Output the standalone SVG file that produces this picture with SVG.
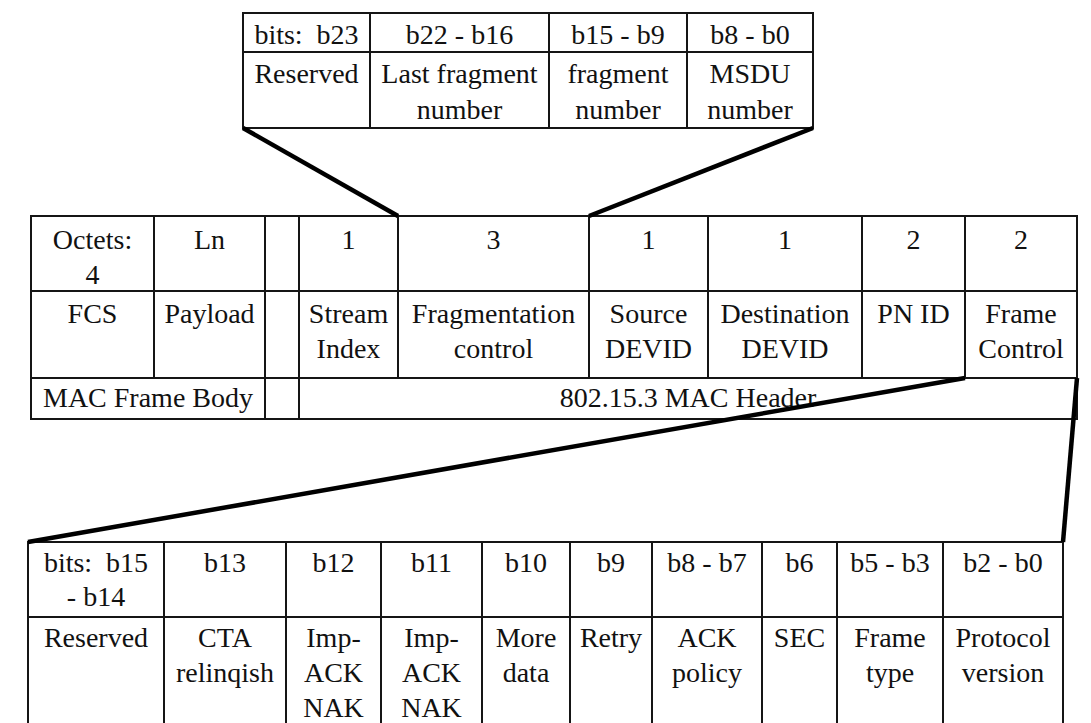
<svg xmlns="http://www.w3.org/2000/svg" width="1091" height="723" viewBox="0 0 1091 723">
  <style>
    .cell { fill: #ffffff; stroke: #151515; stroke-width: 2; }
    .t { font-family: "Liberation Serif", "Times New Roman", serif; font-size: 28px; fill: #111111; text-anchor: middle; white-space: pre; }
    .link { stroke: #000000; stroke-width: 4.5; stroke-linecap: butt; fill: none; }
  </style>
  <rect width="1091" height="723" fill="#ffffff"/>

  <!-- Fragmentation control field (24 bits) -->
  <g id="fragmentation-control">
    <rect class="cell" x="243" y="13" width="127" height="39"/>
    <rect class="cell" x="370" y="13" width="179" height="39"/>
    <rect class="cell" x="549" y="13" width="138" height="39"/>
    <rect class="cell" x="687" y="13" width="126" height="39"/>
    <rect class="cell" x="243" y="52" width="127" height="76"/>
    <rect class="cell" x="370" y="52" width="179" height="76"/>
    <rect class="cell" x="549" y="52" width="138" height="76"/>
    <rect class="cell" x="687" y="52" width="126" height="76"/>
    <text class="t" x="306.5" y="44">bits:  b23</text>
    <text class="t" x="459.5" y="44">b22 - b16</text>
    <text class="t" x="618" y="44">b15 - b9</text>
    <text class="t" x="750" y="44">b8 - b0</text>
    <text class="t" x="306.5" y="83">Reserved</text>
    <text class="t" x="459.5" y="83">Last fragment</text>
    <text class="t" x="459.5" y="119">number</text>
    <text class="t" x="618" y="83">fragment</text>
    <text class="t" x="618" y="119">number</text>
    <text class="t" x="750" y="83">MSDU</text>
    <text class="t" x="750" y="119">number</text>
  </g>

  <!-- MAC frame: header and body -->
  <g id="mac-frame">
    <rect class="cell" x="31" y="216" width="123" height="75"/>
    <rect class="cell" x="154" y="216" width="111" height="75"/>
    <rect class="cell" x="265" y="216" width="34" height="75"/>
    <rect class="cell" x="299" y="216" width="99" height="75"/>
    <rect class="cell" x="398" y="216" width="191" height="75"/>
    <rect class="cell" x="589" y="216" width="119" height="75"/>
    <rect class="cell" x="708" y="216" width="154" height="75"/>
    <rect class="cell" x="862" y="216" width="103" height="75"/>
    <rect class="cell" x="965" y="216" width="112" height="75"/>

    <rect class="cell" x="31" y="291" width="123" height="87"/>
    <rect class="cell" x="154" y="291" width="111" height="87"/>
    <rect class="cell" x="265" y="291" width="34" height="87"/>
    <rect class="cell" x="299" y="291" width="99" height="87"/>
    <rect class="cell" x="398" y="291" width="191" height="87"/>
    <rect class="cell" x="589" y="291" width="119" height="87"/>
    <rect class="cell" x="708" y="291" width="154" height="87"/>
    <rect class="cell" x="862" y="291" width="103" height="87"/>
    <rect class="cell" x="965" y="291" width="112" height="87"/>

    <rect class="cell" x="31" y="378" width="234" height="41"/>
    <rect class="cell" x="265" y="378" width="34" height="41"/>
    <rect class="cell" x="299" y="378" width="778" height="41"/>

    <text class="t" x="92.5" y="249">Octets:</text>
    <text class="t" x="92.5" y="284">4</text>
    <text class="t" x="209.5" y="249">Ln</text>
    <text class="t" x="348.5" y="249">1</text>
    <text class="t" x="493.5" y="249">3</text>
    <text class="t" x="648.5" y="249">1</text>
    <text class="t" x="785" y="249">1</text>
    <text class="t" x="913.5" y="249">2</text>
    <text class="t" x="1021" y="249">2</text>

    <text class="t" x="92.5" y="323">FCS</text>
    <text class="t" x="209.5" y="323">Payload</text>
    <text class="t" x="348.5" y="323">Stream</text>
    <text class="t" x="348.5" y="358">Index</text>
    <text class="t" x="493.5" y="323">Fragmentation</text>
    <text class="t" x="493.5" y="358">control</text>
    <text class="t" x="648.5" y="323">Source</text>
    <text class="t" x="648.5" y="358">DEVID</text>
    <text class="t" x="785" y="323">Destination</text>
    <text class="t" x="785" y="358">DEVID</text>
    <text class="t" x="913.5" y="323">PN ID</text>
    <text class="t" x="1021" y="323">Frame</text>
    <text class="t" x="1021" y="358">Control</text>

    <text class="t" x="148" y="407">MAC Frame Body</text>
    <text class="t" x="688" y="407">802.15.3 MAC Header</text>
  </g>

  <!-- Frame control field (16 bits) -->
  <g id="frame-control">
    <rect class="cell" x="28" y="542" width="136" height="75"/>
    <rect class="cell" x="164" y="542" width="122" height="75"/>
    <rect class="cell" x="286" y="542" width="95" height="75"/>
    <rect class="cell" x="381" y="542" width="101" height="75"/>
    <rect class="cell" x="482" y="542" width="88" height="75"/>
    <rect class="cell" x="570" y="542" width="82" height="75"/>
    <rect class="cell" x="652" y="542" width="110" height="75"/>
    <rect class="cell" x="762" y="542" width="75" height="75"/>
    <rect class="cell" x="837" y="542" width="106" height="75"/>
    <rect class="cell" x="943" y="542" width="120" height="75"/>

    <rect class="cell" x="28" y="617" width="136" height="130"/>
    <rect class="cell" x="164" y="617" width="122" height="130"/>
    <rect class="cell" x="286" y="617" width="95" height="130"/>
    <rect class="cell" x="381" y="617" width="101" height="130"/>
    <rect class="cell" x="482" y="617" width="88" height="130"/>
    <rect class="cell" x="570" y="617" width="82" height="130"/>
    <rect class="cell" x="652" y="617" width="110" height="130"/>
    <rect class="cell" x="762" y="617" width="75" height="130"/>
    <rect class="cell" x="837" y="617" width="106" height="130"/>
    <rect class="cell" x="943" y="617" width="120" height="130"/>

    <text class="t" x="96" y="572">bits:  b15</text>
    <text class="t" x="96" y="606">- b14</text>
    <text class="t" x="225" y="572">b13</text>
    <text class="t" x="333.5" y="572">b12</text>
    <text class="t" x="431.5" y="572">b11</text>
    <text class="t" x="526" y="572">b10</text>
    <text class="t" x="611" y="572">b9</text>
    <text class="t" x="707" y="572">b8 - b7</text>
    <text class="t" x="799.5" y="572">b6</text>
    <text class="t" x="890" y="572">b5 - b3</text>
    <text class="t" x="1003" y="572">b2 - b0</text>

    <text class="t" x="96" y="647">Reserved</text>
    <text class="t" x="225" y="647">CTA</text>
    <text class="t" x="225" y="682">relinqish</text>
    <text class="t" x="333.5" y="647">Imp-</text>
    <text class="t" x="333.5" y="682">ACK</text>
    <text class="t" x="333.5" y="717">NAK</text>
    <text class="t" x="431.5" y="647">Imp-</text>
    <text class="t" x="431.5" y="682">ACK</text>
    <text class="t" x="431.5" y="717">NAK</text>
    <text class="t" x="526" y="647">More</text>
    <text class="t" x="526" y="682">data</text>
    <text class="t" x="611" y="647">Retry</text>
    <text class="t" x="707" y="647">ACK</text>
    <text class="t" x="707" y="682">policy</text>
    <text class="t" x="799.5" y="647">SEC</text>
    <text class="t" x="890" y="647">Frame</text>
    <text class="t" x="890" y="682">type</text>
    <text class="t" x="1003" y="647">Protocol</text>
    <text class="t" x="1003" y="682">version</text>
  </g>

  <!-- Expansion lines from a field to its breakdown -->
  <g id="connectors">
    <line class="link" x1="243" y1="128" x2="398" y2="216"/>
    <line class="link" x1="813" y1="128" x2="589" y2="216"/>
    <line class="link" x1="965" y1="378" x2="28" y2="542"/>
    <line class="link" x1="1077" y1="378" x2="1063" y2="542"/>
  </g>
</svg>
